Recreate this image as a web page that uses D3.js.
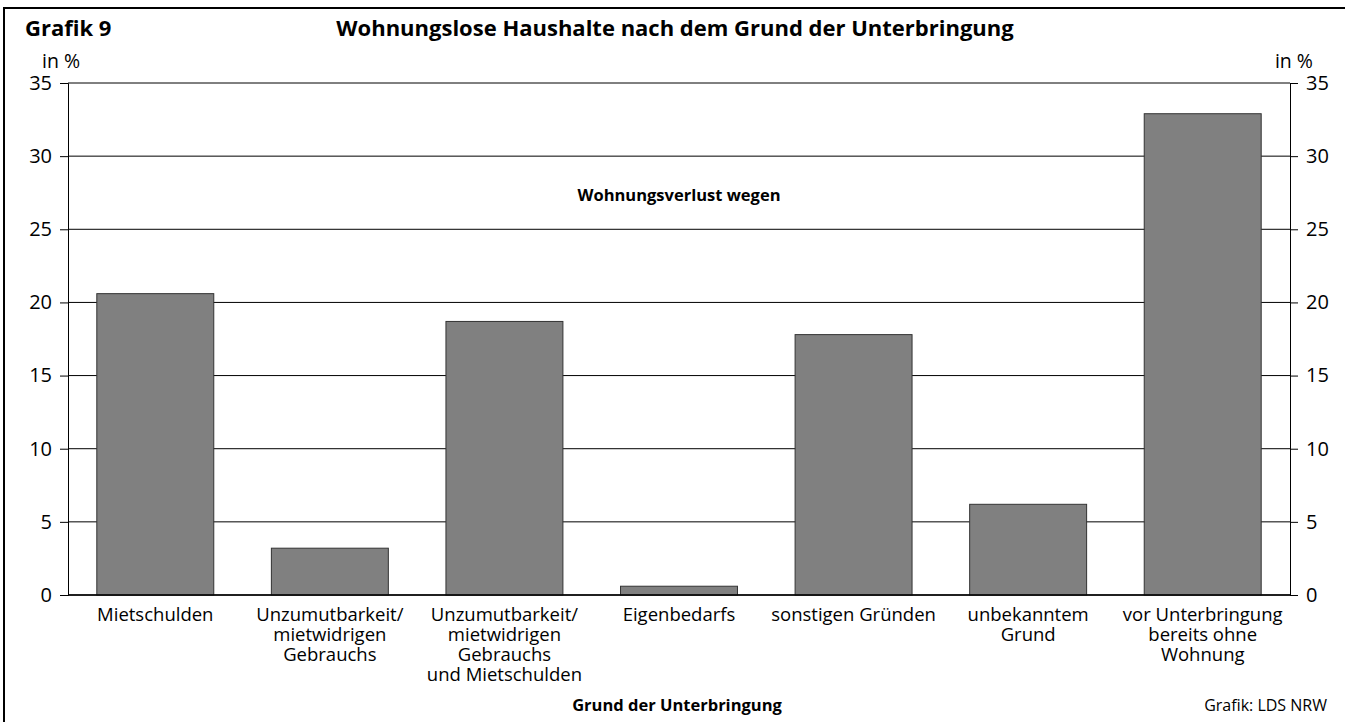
<!DOCTYPE html>
<html>
<head>
<meta charset="utf-8">
<script src="https://cdn.jsdelivr.net/npm/d3@7.9.0/dist/d3.min.js"></script>
<style>
  body { margin: 0; background: #fff; }
  svg { display: block; font-family: "Open Sans", sans-serif; }
</style>
</head>
<body>
<svg id="chart" width="1345" height="722"></svg>
<script>
// data
const categories = [
  ['Mietschulden'],
  ['Unzumutbarkeit/', 'mietwidrigen', 'Gebrauchs'],
  ['Unzumutbarkeit/', 'mietwidrigen', 'Gebrauchs', 'und Mietschulden'],
  ['Eigenbedarfs'],
  ['sonstigen Gründen'],
  ['unbekanntem', 'Grund'],
  ['vor Unterbringung', 'bereits ohne', 'Wohnung']
];
const values = [20.6, 3.2, 18.7, 0.6, 17.8, 6.2, 32.9];
const yTicks = [0, 5, 10, 15, 20, 25, 30, 35];

const svg = d3.select('#chart');
const plotLeft = 68, plotRight = 1290, plotTop = 83, plotBottom = 595;

// outer frame (cut off at right/bottom like the scan)
svg.append('rect')
  .attr('x', 4).attr('y', 8)
  .attr('width', 1345).attr('height', 730)
  .attr('fill', 'none').attr('stroke', '#000').attr('stroke-width', 2);

let x = d3.scaleBand()
  .domain(d3.range(categories.length))
  .range([plotLeft, plotRight])
  .paddingInner(0.33).paddingOuter(0.165);

let y = d3.scaleLinear().domain([0, 35]).range([plotBottom, plotTop]);

// gridlines + left/right axes
let yLeft = d3.axisLeft(y).tickValues(yTicks).tickSize(8).tickPadding(8);
let yRight = d3.axisRight(y).tickValues(yTicks).tickSize(8).tickPadding(8);

svg.append('g').selectAll('line')
  .data(yTicks)
  .join('line')
  .attr('x1', plotLeft).attr('x2', plotRight)
  .attr('y1', d => y(d)).attr('y2', d => y(d))
  .attr('stroke', '#000').attr('stroke-width', 1);

let gl = svg.append('g').attr('transform', `translate(${plotLeft},0)`).call(yLeft);
let gr = svg.append('g').attr('transform', `translate(${plotRight},0)`).call(yRight);
[gl, gr].forEach(g => {
  g.select('.domain').attr('stroke', '#000');
  g.selectAll('line').attr('stroke', '#000');
  g.selectAll('text').attr('font-size', 20).attr('fill', '#000')
    .attr('font-family', '"Open Sans", sans-serif');
});

// bars
svg.append('g').selectAll('rect')
  .data(values)
  .join('rect')
  .attr('x', (d, i) => x(i))
  .attr('width', x.bandwidth())
  .attr('y', d => y(d))
  .attr('height', d => y(0) - y(d))
  .attr('fill', '#808080')
  .attr('stroke', '#333')
  .attr('stroke-width', 1);

// baseline
svg.append('line')
  .attr('x1', plotLeft).attr('x2', plotRight)
  .attr('y1', y(0)).attr('y2', y(0))
  .attr('stroke', '#000').attr('stroke-width', 1.5);

// category labels
let labels = svg.append('g').selectAll('text')
  .data(categories)
  .join('text')
  .attr('text-anchor', 'middle')
  .attr('font-size', 18.5)
  .attr('fill', '#000');
labels.each(function (lines, i) {
  d3.select(this).selectAll('tspan')
    .data(lines)
    .join('tspan')
    .attr('x', x(i) + x.bandwidth() / 2)
    .attr('y', (d, j) => 621 + j * 20)
    .text(d => d);
});

// titles and notes
svg.append('text').attr('x', 25).attr('y', 36)
  .attr('font-size', 22).attr('font-weight', 'bold').text('Grafik 9');
svg.append('text').attr('x', 675).attr('y', 36).attr('text-anchor', 'middle')
  .attr('font-size', 22).attr('font-weight', 'bold')
  .text('Wohnungslose Haushalte nach dem Grund der Unterbringung');
svg.append('text').attr('x', 42).attr('y', 68).attr('font-size', 19.5).text('in %');
svg.append('text').attr('x', 1313).attr('y', 68).attr('text-anchor', 'end')
  .attr('font-size', 19.5).text('in %');
svg.append('text').attr('x', 679).attr('y', 201).attr('text-anchor', 'middle')
  .attr('font-size', 16.5).attr('font-weight', 'bold').text('Wohnungsverlust wegen');
svg.append('text').attr('x', 677).attr('y', 711).attr('text-anchor', 'middle')
  .attr('font-size', 16.5).attr('font-weight', 'bold').text('Grund der Unterbringung');
svg.append('text').attr('x', 1327).attr('y', 711).attr('text-anchor', 'end')
  .attr('font-size', 16).text('Grafik: LDS NRW');
</script>
</body>
</html>
